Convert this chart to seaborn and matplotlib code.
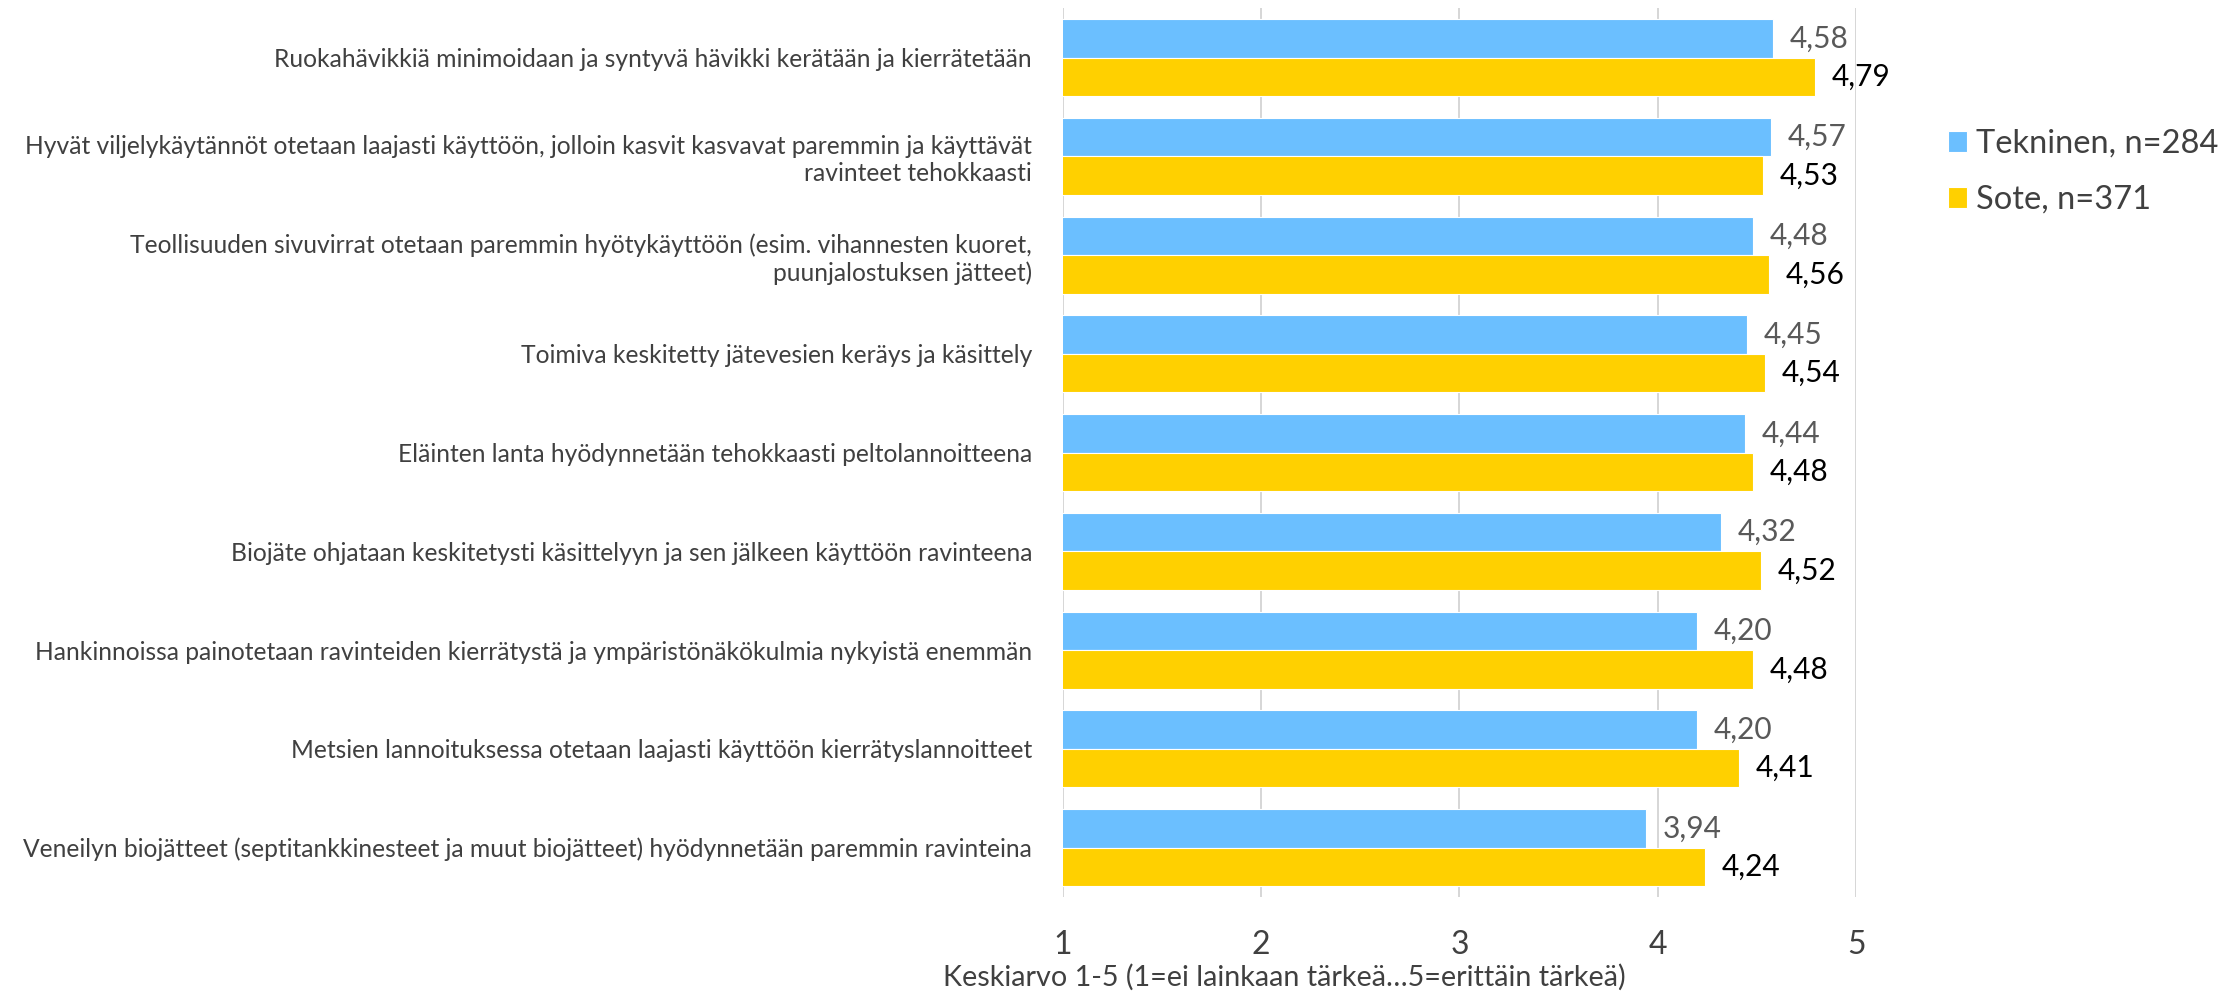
import numpy as np
import pandas as pd
import matplotlib
matplotlib.use("Agg")
import matplotlib.pyplot as plt
import seaborn as sns

categories = [
    "Ruokahävikkiä minimoidaan ja syntyvä hävikki kerätään ja kierrätetään",
    "Hyvät viljelykäytännöt otetaan laajasti käyttöön, jolloin kasvit kasvavat paremmin ja käyttävät\nravinteet tehokkaasti",
    "Teollisuuden sivuvirrat otetaan paremmin hyötykäyttöön (esim. vihannesten kuoret,\npuunjalostuksen jätteet)",
    "Toimiva keskitetty jätevesien keräys ja käsittely",
    "Eläinten lanta hyödynnetään tehokkaasti peltolannoitteena",
    "Biojäte ohjataan keskitetysti käsittelyyn ja sen jälkeen käyttöön ravinteena",
    "Hankinnoissa painotetaan ravinteiden kierrätystä ja ympäristönäkökulmia nykyistä enemmän",
    "Metsien lannoituksessa otetaan laajasti käyttöön kierrätyslannoitteet",
    "Veneilyn biojätteet (septitankkinesteet ja muut biojätteet) hyödynnetään paremmin ravinteina",
]
tekninen = [4.58, 4.57, 4.48, 4.45, 4.44, 4.32, 4.20, 4.20, 3.94]
sote = [4.79, 4.53, 4.56, 4.54, 4.48, 4.52, 4.48, 4.41, 4.24]
series_names = ["Tekninen, n=284", "Sote, n=371"]
xticks = [1, 2, 3, 4, 5]
xlabel = "Keskiarvo 1-5 (1=ei lainkaan tärkeä…5=erittäin tärkeä)"

df = pd.DataFrame({
    "kysymys": categories * 2,
    "arvo": tekninen + sote,
    "ryhma": [series_names[0]] * len(categories) + [series_names[1]] * len(categories),
})

sns.set_style("white")
plt.rcParams["font.family"] = ["Lato", "DejaVu Sans"]

fig = plt.figure(figsize=(22.23, 9.93), dpi=100)
ax = fig.add_axes([0.478, 0.0967, 0.357, 0.895])

palette = {series_names[0]: "#6BBFFF", series_names[1]: "#FFD000"}
sns.barplot(data=df, x="arvo", y="kysymys", hue="ryhma", palette=palette,
            order=categories, hue_order=series_names, width=0.78,
            edgecolor="white", linewidth=0.8, saturation=1, legend=False, ax=ax)

ax.set_xlim(1, 5)
ax.set_xticks(xticks)
ax.set_xticklabels([str(t) for t in xticks], fontsize=23, color="#404040")
ax.tick_params(axis="x", length=0, pad=24)
ax.tick_params(axis="y", length=0, pad=22, labelsize=17.7, labelcolor="#404040")
ax.set_ylabel("")
ax.set_xlabel(xlabel, fontsize=20.7, color="#404040")
ax.xaxis.set_label_coords(0.279, -0.075)
for lbl in ax.get_yticklabels():
    lbl.set_horizontalalignment("right")
ax.grid(axis="x", color="#d0d0d0", linewidth=1.2)
ax.set_axisbelow(True)
for s in ax.spines.values():
    s.set_visible(False)

label_colors = ["#595959", "#000000"]
for cont, col in zip(ax.containers, label_colors):
    ax.bar_label(cont, labels=[f"{v:.2f}".replace(".", ",") for v in cont.datavalues],
                 padding=12, fontsize=21.5, color=col)

# legend built from the bar containers
handles = [cont.patches[0] for cont in ax.containers]
fig.legend(handles, series_names, loc="center left", bbox_to_anchor=(0.863, 0.827),
           frameon=False, fontsize=23.5, handlelength=0.6, handleheight=0.6,
           handletextpad=0.25, labelspacing=0.8, labelcolor="#404040")

fig.savefig("out.png", dpi=100)
